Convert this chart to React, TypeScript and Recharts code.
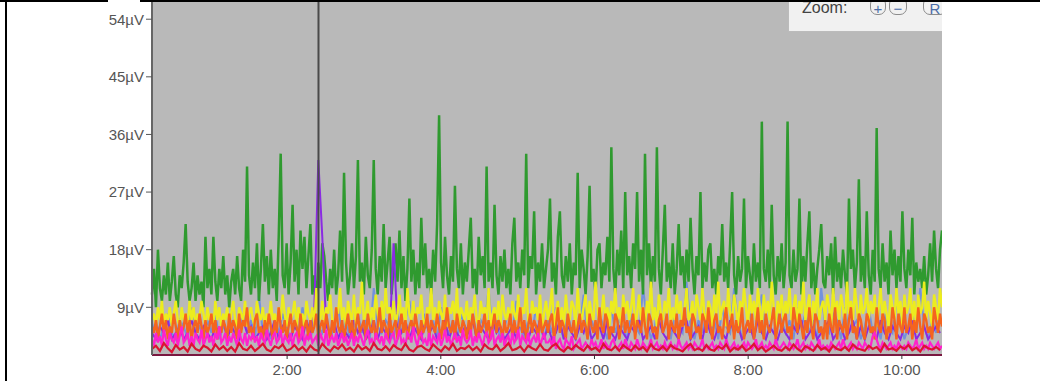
import { LineChart, Line, XAxis, YAxis, CartesianGrid, ReferenceLine } from 'recharts'

// ── Data (µV). Dense channels: one sample every 1.546 s; sparse ones every 2nd sample ──

const T0 = 14.5
const STEP = 1.546

const GREEN_UV = [
  11, 15, 9, 18, 12, 10, 14, 11, 16, 10,
  13, 17, 11, 9, 14, 12, 16, 22, 13, 10,
  12, 16, 10, 14, 11, 13, 9, 20, 12, 15,
  11, 20, 13, 10, 15, 12, 17, 11, 14, 9,
  13, 15, 11, 17, 12, 10, 18, 13, 31, 14,
  11, 16, 12, 19, 10, 15, 22, 13, 17, 11,
  18, 12, 15, 10, 20, 33, 14, 12, 19, 11,
  16, 25, 13, 18, 11, 21, 15, 20, 12, 17,
  22, 11, 14, 10, 16, 12, 19, 17, 13, 10,
  15, 12, 18, 11, 14, 21, 13, 30, 16, 11,
  14, 19, 12, 17, 32, 13, 16, 11, 20, 14,
  12, 18, 32, 15, 11, 17, 13, 22, 12, 16,
  20, 11, 15, 19, 13, 21, 12, 17, 10, 15,
  26, 13, 18, 11, 16, 12, 23, 14, 19, 12,
  15, 11, 18, 13, 22, 39, 16, 12, 20, 14,
  11, 17, 13, 28, 15, 12, 19, 11, 16, 13,
  18, 23, 12, 15, 11, 20, 14, 17, 12, 31,
  13, 16, 12, 25, 14, 11, 17, 13, 18, 12,
  15, 11, 19, 23, 13, 16, 12, 18, 14, 33,
  12, 17, 15, 24, 11, 16, 13, 19, 12, 15,
  18, 26, 13, 16, 11, 20, 24, 14, 12, 17,
  13, 19, 11, 16, 14, 30, 12, 18, 15, 11,
  17, 28, 13, 15, 11, 18, 19, 12, 16, 14,
  20, 13, 34, 15, 11, 18, 14, 21, 12, 27,
  14, 17, 12, 19, 15, 27, 13, 18, 11, 33,
  14, 19, 12, 17, 13, 34, 15, 11, 18, 25,
  13, 16, 12, 19, 11, 15, 22, 14, 17, 12,
  18, 13, 23, 15, 11, 17, 14, 27, 12, 16,
  13, 18, 19, 12, 15, 11, 17, 14, 22, 13,
  16, 12, 19, 27, 14, 11, 17, 13, 15, 26,
  12, 17, 14, 11, 19, 13, 16, 12, 38, 15,
  13, 18, 12, 25, 14, 11, 17, 13, 19, 12,
  16, 38, 14, 12, 18, 13, 15, 26, 11, 17,
  13, 19, 24, 12, 16, 11, 15, 18, 22, 13,
  12, 17, 14, 19, 11, 20, 13, 16, 12, 18,
  14, 11, 26, 15, 18, 12, 16, 29, 13, 17,
  12, 24, 14, 11, 18, 13, 37, 15, 12, 19,
  13, 16, 11, 21, 14, 18, 12, 17, 13, 24,
  15, 12, 18, 14, 23, 11, 16, 13, 15, 12,
  17, 11, 14, 19, 13, 21, 15, 12, 18, 21,
]

const YELLOW_UV = [
  7, 8, 6, 9, 7, 10, 6, 8, 7, 9, 6, 8, 10, 7, 6, 9, 7, 8, 6, 10,
  7, 9, 6, 8, 7, 10, 8, 6, 9, 7, 8, 6, 10, 7, 9, 6, 8, 7, 9, 6,
  8, 10, 7, 6, 9, 8, 7, 10, 6, 8, 9, 7, 6, 10, 8, 7, 9, 6, 8, 7,
  10, 7, 8, 6, 9, 7, 11, 8, 6, 9, 7, 8, 10, 6, 9, 7, 8, 6, 10, 8,
  7, 9, 6, 12, 8, 7, 10, 6, 9, 8, 11, 7, 6, 9, 8, 12, 7, 9, 6, 10,
  8, 7, 11, 6, 9, 8, 13, 7, 8, 10, 6, 9, 7, 11, 8, 6, 10, 7, 12, 8,
  9, 7, 10, 6, 8, 11, 7, 9, 6, 12, 8, 7, 10, 6, 9, 8, 11, 7, 6, 9,
  8, 12, 7, 9, 6, 10, 8, 7, 11, 6, 9, 8, 10, 7, 12, 6, 9, 8, 7, 10,
  6, 9, 8, 11, 7, 6, 10, 8, 9, 7, 12, 6, 8, 9, 7, 10, 6, 11, 8, 7,
  9, 6, 10, 8, 7, 11, 6, 9, 8, 12, 7, 6, 10, 8, 9, 7, 11, 6, 8, 10,
  7, 9, 12, 6, 8, 10, 7, 9, 6, 11, 8, 7, 10, 9, 6, 12, 8, 7, 9, 11,
  6, 10, 8, 7, 13, 9, 6, 8, 11, 7, 9, 6, 10, 8, 12, 7, 9, 6, 11, 8,
  10, 7, 9, 12, 6, 8, 11, 7, 9, 6, 10, 8, 13, 7, 9, 6, 11, 8, 7, 10,
  8, 12, 6, 9, 7, 11, 8, 10, 6, 9, 12, 7, 8, 10, 6, 11, 9, 7, 12, 8,
  7, 10, 9, 6, 11, 8, 13, 7, 9, 10, 6, 12, 8, 7, 11, 9, 6, 10, 8, 12,
  9, 6, 11, 8, 10, 7, 12, 9, 6, 11, 8, 10, 7, 13, 9, 6, 10, 8, 11, 7,
  10, 8, 12, 7, 9, 11, 6, 10, 8, 13, 7, 9, 11, 6, 10, 8, 12, 7, 9, 10,
  7, 11, 9, 6, 12, 8, 10, 7, 11, 9, 6, 13, 8, 10, 7, 12, 9, 6, 11, 8,
  9, 12, 7, 10, 8, 11, 6, 9, 12, 7, 10, 8, 6, 11, 9, 7, 12, 8, 10, 6,
  11, 8, 9, 12, 7, 10, 6, 11, 8, 9, 13, 7, 10, 8, 6, 11, 9, 7, 12, 9,
]

const ORANGE_UV = [
  6, 5, 7, 4, 6, 8, 5, 7, 4, 6, 5, 8, 6, 4, 7, 5, 6, 8, 5, 7,
  4, 6, 7, 5, 8, 6, 4, 7, 5, 6, 8, 5, 7, 4, 6, 5, 7, 6, 4, 8,
  5, 7, 6, 4, 8, 5, 7, 6, 9, 5, 6, 4, 7, 8, 5, 6, 4, 7, 5, 8,
  6, 4, 7, 5, 9, 6, 5, 7, 4, 6, 8, 5, 7, 6, 4, 8, 5, 6, 7, 4,
  7, 5, 6, 8, 4, 6, 7, 5, 8, 6, 4, 7, 5, 9, 6, 5, 7, 4, 6, 8,
  5, 7, 4, 6, 8, 5, 6, 7, 4, 8, 6, 5, 7, 4, 6, 9, 5, 7, 6, 4,
  8, 5, 6, 7, 4, 6, 8, 5, 7, 4, 6, 7, 5, 8, 6, 4, 7, 5, 6, 8,
  4, 7, 6, 5, 8, 6, 4, 7, 5, 9, 6, 5, 7, 4, 8, 6, 5, 7, 6, 4,
  7, 5, 8, 6, 4, 7, 5, 6, 8, 5, 7, 4, 6, 8, 5, 7, 6, 4, 7, 5,
  6, 8, 4, 7, 5, 6, 9, 5, 7, 4, 6, 8, 5, 7, 6, 4, 8, 5, 6, 7,
  5, 7, 8, 4, 6, 9, 5, 7, 6, 4, 8, 6, 5, 7, 4, 6, 8, 5, 7, 6,
  4, 8, 6, 5, 7, 4, 9, 6, 5, 8, 7, 4, 6, 5, 8, 7, 4, 6, 9, 5,
  7, 5, 6, 8, 4, 7, 6, 5, 9, 6, 4, 8, 7, 5, 6, 4, 7, 8, 5, 6,
  8, 4, 7, 6, 5, 8, 4, 7, 6, 9, 5, 6, 4, 8, 7, 5, 6, 4, 8, 7,
  5, 9, 6, 4, 7, 8, 5, 6, 4, 7, 9, 5, 6, 8, 4, 7, 5, 6, 9, 4,
  6, 7, 5, 8, 4, 6, 9, 5, 7, 4, 8, 6, 5, 7, 9, 4, 6, 8, 5, 7,
  8, 5, 6, 4, 9, 7, 5, 8, 6, 4, 7, 5, 9, 6, 4, 8, 7, 5, 6, 4,
  7, 4, 8, 6, 5, 9, 4, 7, 6, 5, 8, 4, 7, 9, 5, 6, 4, 8, 7, 5,
  4, 8, 7, 5, 6, 4, 9, 6, 5, 8, 7, 4, 6, 5, 9, 7, 4, 8, 6, 5,
  9, 5, 6, 8, 4, 7, 5, 9, 6, 4, 8, 7, 5, 6, 4, 9, 7, 5, 8, 6,
]

const MAGENTA_UV = [
  4, 3, 5, 3.5, 4.5, 3, 5.5, 4, 3, 5, 4, 3.5, 5, 3, 4.5, 6, 3.5, 4, 5, 3,
  4.5, 3, 5, 4, 3.5, 5.5, 3, 4, 5, 3.5, 4.5, 3, 5, 4, 6, 3.5, 4, 5, 3, 4.5,
  3.5, 5, 4, 3, 5.5, 4, 3.5, 5, 3, 4.5, 4, 5, 3.5, 4.5, 3, 5, 4, 3.5, 5.5, 4,
  3, 4.5, 5, 3.5, 4, 5.5, 3, 4.5, 4, 3.5, 5, 3, 4.5, 5, 3.5, 4, 6, 3, 4.5, 4,
  5, 3.5, 4, 4.5, 3, 5, 4, 3.5, 5.5, 3, 4, 4.5, 3.5, 5, 3, 4, 5, 3.5, 4.5, 3,
  4, 5, 3, 4.5, 3.5, 5, 4, 3, 4.5, 5.5, 3.5, 4, 3, 5, 4, 3.5, 4.5, 3, 5, 4,
  3.5, 4.5, 5, 3, 4, 5.5, 3.5, 4, 3, 5, 4.5, 3.5, 6, 4, 3, 4.5, 5, 3.5, 4, 3,
  5, 3, 4.5, 4, 3.5, 5, 3, 4, 5.5, 3.5, 4.5, 3, 4, 5, 3.5, 4.5, 3, 5.5, 4, 3.5,
  4, 5.5, 3, 4.5, 3.5, 5, 4, 3, 4.5, 5, 3.5, 4, 5.5, 3, 4, 4.5, 3.5, 5, 3, 4,
  4.5, 3, 5, 3.5, 4, 5.5, 3, 4.5, 4, 3.5, 5, 3, 4, 4.5, 3.5, 5, 3, 4, 5, 3.5,
  3.5, 4, 3, 4.5, 2.5, 3.5, 4, 3, 2.5, 4, 3.5, 3, 4.5, 2.5, 3, 3.5, 4, 2.5, 3, 3.5,
  3, 2.5, 4, 3, 3.5, 2.5, 3, 4, 2.5, 3.5, 3, 2.5, 3.5, 4, 3, 2.5, 3, 3.5, 2.5, 4,
  3, 2.5, 3.5, 3, 2.5, 4, 3, 2.5, 3.5, 3, 2.5, 3, 4, 2.5, 3, 3.5, 2.5, 3, 2.5, 3.5,
  2.5, 3, 3.5, 2.5, 3, 2.5, 4, 3, 2.5, 3, 3.5, 2.5, 3, 2.5, 3.5, 3, 2.5, 3, 4, 2.5,
  3, 2.5, 3, 3.5, 2.5, 3, 2.5, 3.5, 3, 2.5, 4, 3, 2.5, 3, 3.5, 2.5, 3, 2.5, 3, 3.5,
  2.5, 3.5, 3, 2.5, 3, 4, 2.5, 3, 3.5, 2.5, 3, 2.5, 3.5, 3, 2.5, 4, 3, 2.5, 3, 3.5,
  3, 2.5, 3.5, 3, 2.5, 3, 4, 2.5, 3, 3.5, 2.5, 3, 2.5, 3.5, 3, 2.5, 3, 4, 2.5, 3,
  2.5, 3, 2.5, 3.5, 3, 2.5, 3, 3.5, 2.5, 4, 3, 2.5, 3, 3.5, 2.5, 3, 2.5, 3.5, 3, 2.5,
  3.5, 3, 2.5, 3, 4.5, 5, 4, 3, 2.5, 3.5, 3, 2.5, 3, 3.5, 2.5, 3, 2.5, 3.5, 3, 2.5,
  3, 2.5, 3.5, 3, 2.5, 3, 4, 2.5, 3, 3.5, 2.5, 3, 2.5, 3.5, 3, 2.5, 3, 3.5, 2.5, 3,
]

// sparse channels (every 2nd sample)
const BLUE_UV = [
  5, 7, 4, 6, 8, 5, 4, 7, 6, 4, 9, 5, 6, 4, 7, 5, 8, 4, 6, 5,
  7, 4, 6, 8, 5, 7, 4, 11, 5, 6, 4, 7, 5, 8, 6, 4, 7, 5, 9, 6,
  4, 7, 6, 5, 8, 4, 6, 9, 5, 7, 4, 6, 8, 5, 7, 4, 12, 6, 5, 7,
  6, 4, 8, 5, 7, 10, 5, 6, 4, 8, 5, 7, 4, 9, 6, 5, 7, 4, 8, 6,
  5, 8, 4, 7, 6, 12, 5, 7, 4, 6, 8, 5, 10, 6, 4, 7, 5, 9, 6, 4,
  7, 5, 9, 6, 4, 8, 5, 7, 6, 11, 4, 7, 5, 8, 6, 4, 9, 5, 7, 6,
  4, 8, 6, 5, 12, 7, 4, 6, 10, 5, 7, 4, 8, 6, 5, 13, 6, 4, 7, 5,
  8, 5, 7, 4, 9, 6, 5, 12, 7, 4, 6, 8, 5, 7, 11, 4, 6, 5, 8, 7,
  5, 7, 4, 9, 6, 8, 5, 7, 4, 12, 6, 5, 8, 7, 4, 9, 5, 6, 7, 4,
  6, 9, 5, 7, 4, 8, 6, 5, 10, 7, 4, 6, 8, 5, 12, 6, 4, 7, 5, 8,
]

const PURPLE_UV = [
  5, 4, 6, 5, 7, 4, 5, 6, 4, 5, 7, 5, 4, 6, 5, 4, 6, 5, 7, 4,
  6, 5, 4, 7, 5, 6, 4, 5, 6, 4, 5, 7, 4, 6, 5, 4, 6, 5, 4, 7,
  5, 9, 32, 20, 6, 5, 7, 4, 6, 5, 4, 7, 5, 6, 4, 5, 7, 4, 6, 5,
  4, 19, 6, 5, 7, 4, 6, 5, 4, 7, 5, 6, 4, 5, 7, 4, 6, 5, 4, 6,
  5, 7, 4, 6, 5, 4, 7, 5, 6, 4, 5, 6, 4, 7, 5, 4, 6, 5, 7, 4,
  6, 4, 5, 7, 4, 6, 5, 4, 6, 5, 7, 4, 5, 6, 4, 7, 5, 4, 6, 5,
  4, 6, 5, 7, 4, 5, 6, 4, 7, 5, 4, 6, 5, 4, 6, 7, 4, 5, 6, 4,
  7, 5, 4, 6, 5, 4, 7, 5, 6, 4, 5, 6, 4, 7, 5, 4, 6, 5, 4, 6,
  5, 4, 6, 5, 7, 4, 5, 6, 4, 5, 6, 7, 4, 5, 6, 4, 5, 7, 4, 6,
  4, 6, 5, 4, 7, 5, 4, 6, 5, 4, 6, 5, 7, 4, 5, 6, 4, 5, 6, 5,
]

const RED_UV = [
  2.5, 3, 2.2, 3.4, 2.6, 2, 3.1, 2.4, 2.8, 2.1, 3.3, 2.5, 2.2, 3, 2.7, 2.1, 3.2, 2.4, 2.9, 2.2,
  2.8, 2.1, 3.4, 2.5, 2.3, 3, 2.2, 2.7, 3.3, 2.4, 2.1, 2.9, 2.6, 3.2, 2.2, 2.5, 3.1, 2.3, 2.8, 2.1,
  3, 2.4, 2.2, 3.3, 2.6, 2.1, 2.9, 2.5, 3.2, 2.3, 2.7, 2.1, 3.1, 2.4, 2.8, 2.2, 3.4, 2.5, 2.3, 2.9,
  2.2, 3.1, 2.6, 2.3, 3.3, 2.4, 2.1, 2.8, 3, 2.5, 2.2, 3.2, 2.6, 2.1, 2.9, 2.4, 3.3, 2.2, 2.7, 2.5,
  3, 2.3, 2.8, 2.1, 3.2, 2.6, 2.4, 3.1, 2.2, 2.7, 3.4, 2.3, 2.5, 2.9, 2.1, 3, 2.6, 2.3, 3.2, 2.4,
  2.2, 2.9, 3.3, 2.5, 2.1, 2.8, 2.4, 3.1, 2.6, 2.2, 3, 2.4, 2.7, 2.1, 3.3, 2.5, 2.3, 2.9, 2.2, 3.1,
  2.6, 2.2, 3, 2.4, 2.8, 2.1, 3.2, 2.5, 2.3, 2.9, 2.2, 3.1, 2.6, 2.4, 2.1, 2.8, 3.3, 2.3, 2.6, 2.2,
  3.1, 2.4, 2.2, 2.9, 2.5, 3.2, 2.1, 2.7, 2.4, 3, 2.2, 2.6, 3.3, 2.3, 2.8, 2.1, 2.5, 3, 2.4, 2.2,
  2.8, 2.3, 3.2, 2.5, 2.1, 2.9, 2.6, 2.2, 3.1, 2.4, 2.7, 2.1, 3, 2.5, 2.3, 2.8, 2.2, 3.2, 2.6, 2.4,
  2.2, 3, 2.5, 2.8, 2.1, 3.3, 2.4, 2.6, 2.2, 2.9, 2.5, 3.1, 2.3, 2.7, 2.1, 3, 2.6, 2.4, 2.8, 2.3,
]

const Y_TICKS = [9, 18, 27, 36, 45, 54]
const X_TICKS = [120, 240, 360, 480, 600]
const CURSOR_T = 144.5

// drawing order: first = bottom
const SERIES = [
  { key: 'blue', values: BLUE_UV, sparse: true, color: '#7391dc', width: 2 },
  { key: 'green', values: GREEN_UV, sparse: false, color: '#2f9a2f', width: 2.5 },
  { key: 'purple', values: PURPLE_UV, sparse: true, color: '#8a2be2', width: 2 },
  { key: 'yellow', values: YELLOW_UV, sparse: false, color: '#ecec1e', width: 2.4 },
  { key: 'orange', values: ORANGE_UV, sparse: false, color: '#f5641e', width: 2.4 },
  { key: 'magenta', values: MAGENTA_UV, sparse: false, color: '#ff22cc', width: 2.2 },
  { key: 'red', values: RED_UV, sparse: true, color: '#dc1432', width: 2.2 },
]

const data = GREEN_UV.map((_, i) => {
  const row: Record<string, number | undefined> = { t: Math.round((T0 + i * STEP) * 100) / 100 }
  SERIES.forEach(s => {
    row[s.key] = s.sparse ? (i % 2 === 0 ? s.values[i / 2] : undefined) : s.values[i]
  })
  return row
})

const font = '"Liberation Sans", Arial, sans-serif'
const tickText = { fill: '#555', fontSize: 15, fontFamily: font }

const fmtTime = (v: number) => `${Math.floor(v / 60)}:${String(Math.round(v % 60)).padStart(2, '0')}`

function ZoomBtn({ left, width, label }: { left: number; width: number; label: string }) {
  return (
    <>
      <div style={{
        position: 'absolute', left, top: -3, width, height: 18, boxSizing: 'border-box',
        border: '1px solid #8c8c8c', borderRadius: 7,
      }} />
      <div style={{
        position: 'absolute', left, top: 1, width, textAlign: 'center',
        fontSize: 15, lineHeight: '15px', color: '#4a6da8', fontFamily: font,
      }}>{label}</div>
    </>
  )
}

export default function App() {
  return (
    <div style={{ position: 'fixed', left: 0, top: 0, width: 1040, height: 381, background: '#fff', overflow: 'hidden' }}>
      <div style={{ position: 'absolute', left: 0, top: 0, width: 942, height: 381, overflow: 'hidden' }}>
        <LineChart width={942} height={381} data={data} margin={{ top: 0, right: 0, bottom: 0, left: 92 }}>
          <CartesianGrid fill="#b9b9b9" horizontal={false} vertical={false} />
          <XAxis
            dataKey="t" type="number" domain={['dataMin', 'dataMax']} ticks={X_TICKS}
            tickFormatter={fmtTime} height={26} tick={tickText} tickSize={4} tickMargin={5}
            axisLine={{ stroke: '#7a1840', strokeWidth: 2 }} tickLine={{ stroke: '#333' }}
          />
          <YAxis
            type="number" domain={[1.55, 57]} ticks={Y_TICKS} allowDataOverflow
            tickFormatter={(v: number) => `${v}µV`} width={60} tick={tickText}
            tickSize={6} tickMargin={2}
            axisLine={{ stroke: '#666', strokeWidth: 2 }} tickLine={{ stroke: '#555' }}
          />
          {SERIES.map(s => (
            <Line key={s.key} type="linear" dataKey={s.key} stroke={s.color} strokeWidth={s.width}
              connectNulls dot={false} activeDot={false} isAnimationActive={false} />
          ))}
          <ReferenceLine x={CURSOR_T} stroke="#4a4a4a" strokeWidth={2} />
        </LineChart>

        <div style={{
          position: 'absolute', left: 788, top: 0, width: 160, height: 31,
          background: '#f1f1f1', borderLeft: '1px solid #bbb', borderBottom: '1px solid #bbb',
        }}>
          <div style={{ position: 'absolute', left: 13, top: 0, fontSize: 16, lineHeight: '16px', color: '#444', fontFamily: font }}>
            Zoom:
          </div>
          <ZoomBtn left={81} width={16} label="+" />
          <ZoomBtn left={100} width={18} label="−" />
          <ZoomBtn left={134} width={24} label="R" />
        </div>
      </div>

      {/* screenshot frame */}
      <div style={{ position: 'absolute', left: 5, top: 0, width: 2, height: 381, background: '#000' }} />
      <div style={{ position: 'absolute', left: 0, top: 0, width: 108, height: 2, background: '#000' }} />
      <div style={{ position: 'absolute', left: 140, top: 0, width: 900, height: 2, background: '#000' }} />
    </div>
  )
}
